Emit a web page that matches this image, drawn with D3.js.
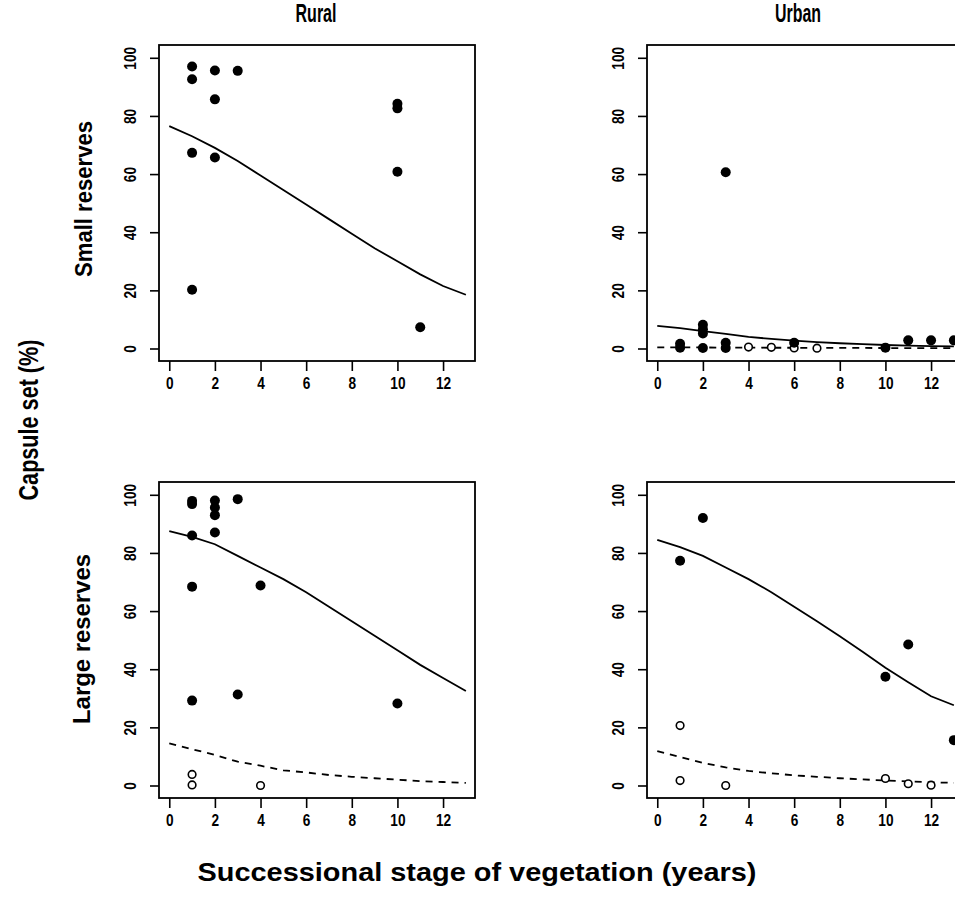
<!DOCTYPE html>
<html>
  <head>
    <meta charset="utf-8">
    <script src="https://d3js.org/d3.v7.min.js"></script>
    <style>
      body { margin: 0; background: #fff; }
      svg { display: block; }
      text { font-family: "Liberation Sans", Arial, sans-serif; font-weight: bold; fill: #000; }
    </style>
    <title>Capsule set</title>
  </head>
  <body>
  <script>
    // ---- data ----
    var xTicks = [0, 2, 4, 6, 8, 10, 12];
    var yTicks = [0, 20, 40, 60, 80, 100];
    var stageYears = [0, 1, 2, 3, 4, 5, 6, 7, 8, 9, 10, 11, 12, 13];

    var columnTitles = ["Rural", "Urban"];
    var rowTitles = ["Small reserves", "Large reserves"];

    // rural, small reserves
    var ruralSmallFilled = [[1, 97], [1, 92.6], [2, 95.6], [3, 95.5], [2, 85.7], [10, 84.2], [10, 82.6],
                            [1, 67.3], [2, 65.7], [10, 60.8], [1, 20.2], [11, 7.3]];
    var ruralSmallOpen = [];
    var ruralSmallFit = [76.5, 73, 69, 64.5, 59.5, 54.5, 49.5, 44.5, 39.5, 34.5, 30, 25.5, 21.5, 18.5];
    var ruralSmallFitOpen = null;

    // urban, small reserves
    var urbanSmallFilled = [[3, 60.6], [1, 1.6], [1, 0.3], [2, 8.2], [2, 6.6], [2, 5.2], [2, 0.2],
                            [3, 2], [3, 0.2], [6, 2], [10, 0.3], [11, 2.8], [12, 2.8], [13, 2.8]];
    var urbanSmallOpen = [[4, 0.5], [5, 0.4], [6, 0.2], [7, 0.1]];
    var urbanSmallFit = [7.8, 7, 6, 5, 4, 3.3, 2.7, 2.2, 1.8, 1.5, 1.2, 1, 0.8, 0.7];
    var urbanSmallFitOpen = [0.4, 0.4, 0.35, 0.3, 0.3, 0.25, 0.25, 0.2, 0.2, 0.2, 0.15, 0.15, 0.1, 0.1];

    // rural, large reserves
    var ruralLargeFilled = [[1, 97.9], [1, 96.8], [2, 98], [2, 95.6], [2, 93], [3, 98.5], [1, 86], [2, 87],
                            [1, 68.4], [4, 68.8], [1, 29.2], [3, 31.3], [10, 28.2]];
    var ruralLargeOpen = [[1, 3.8], [1, 0.2], [4, 0]];
    var ruralLargeFit = [87.5, 85.5, 83, 79, 75, 71, 66.5, 61.5, 56.5, 51.5, 46.5, 41.5, 37, 32.5];
    var ruralLargeFitOpen = [14.5, 12.5, 10.5, 8.2, 6.8, 5.2, 4.5, 3.6, 3, 2.5, 2, 1.5, 1.2, 0.9];

    // urban, large reserves
    var urbanLargeFilled = [[1, 77.3], [2, 92], [10, 37.4], [11, 48.5], [13, 15.6]];
    var urbanLargeOpen = [[1, 20.6], [1, 1.7], [3, 0], [10, 2.4], [11, 0.6], [12, 0.1]];
    var urbanLargeFit = [84.5, 82, 79, 75, 71, 66.5, 61.5, 56.5, 51.3, 46, 40.5, 35.5, 30.7, 27.6];
    var urbanLargeFitOpen = [11.8, 9.8, 7.8, 6.2, 5, 4.2, 3.5, 3, 2.5, 2.1, 1.7, 1.4, 1.1, 0.9];

    var width = 955, height = 897;
    var panelW = 316, panelH = 316;

    var panels = [
      {left: 159, top: 45, filled: ruralSmallFilled, open: ruralSmallOpen, fit: ruralSmallFit, fitOpen: ruralSmallFitOpen},
      {left: 647, top: 45, filled: urbanSmallFilled, open: urbanSmallOpen, fit: urbanSmallFit, fitOpen: urbanSmallFitOpen},
      {left: 159, top: 482, filled: ruralLargeFilled, open: ruralLargeOpen, fit: ruralLargeFit, fitOpen: ruralLargeFitOpen},
      {left: 647, top: 482, filled: urbanLargeFilled, open: urbanLargeOpen, fit: urbanLargeFit, fitOpen: urbanLargeFitOpen}
    ];

    var svg = d3.select("body").append("svg")
                .attr("width", width)
                .attr("height", height);

    var x = d3.scaleLinear().domain([-0.45, 13.4]).range([0, panelW]);
    var y = d3.scaleLinear().domain([-4.3, 104.4]).range([panelH, 0]);

    function drawPanel(p){
      var g = svg.append("g").attr("transform", "translate(" + p.left + "," + p.top + ")");

      var line = d3.line()
                   .x(function(d, i){ return x(stageYears[i]); })
                   .y(function(d){ return y(d); });

      g.append("path")
       .attr("d", line(p.fit))
       .attr("fill", "none")
       .attr("stroke", "#000")
       .attr("stroke-width", 1.8);

      if(p.fitOpen){
        g.append("path")
         .attr("d", line(p.fitOpen))
         .attr("fill", "none")
         .attr("stroke", "#000")
         .attr("stroke-width", 1.8)
         .attr("stroke-dasharray", "7,6");
      }

      g.selectAll(".open")
       .data(p.open)
       .enter().append("circle")
        .attr("class", "open")
        .attr("cx", function(d){ return x(d[0]); })
        .attr("cy", function(d){ return y(d[1]); })
        .attr("r", 3.8)
        .attr("fill", "#fff")
        .attr("stroke", "#000")
        .attr("stroke-width", 1.6);

      g.selectAll(".dot")
       .data(p.filled)
       .enter().append("circle")
        .attr("class", "dot")
        .attr("cx", function(d){ return x(d[0]); })
        .attr("cy", function(d){ return y(d[1]); })
        .attr("r", 5)
        .attr("fill", "#000");

      // frame
      g.append("rect")
       .attr("x", 0).attr("y", 0)
       .attr("width", panelW).attr("height", panelH)
       .attr("fill", "none")
       .attr("stroke", "#000")
       .attr("stroke-width", 1.8);

      var xAxis = g.append("g")
                   .attr("transform", "translate(0," + panelH + ")")
                   .call(d3.axisBottom(x).tickValues(xTicks).tickSize(10).tickPadding(6));
      var yAxis = g.append("g")
                   .call(d3.axisLeft(y).tickValues(yTicks).tickSize(9).tickPadding(5));

      [xAxis, yAxis].forEach(function(a){
        a.attr("font-size", 17).attr("font-family", "'Liberation Sans', Arial, sans-serif");
        a.select(".domain").remove();
        a.selectAll("line").attr("stroke", "#000").attr("stroke-width", 1.6);
        a.selectAll("text")
         .attr("font-weight", "bold")
         .attr("textLength", function(d){ return String(d).length * 7.6; })
         .attr("lengthAdjust", "spacingAndGlyphs")
         .style("font-size", "17px");
      });

      yAxis.selectAll(".tick text")
           .attr("x", 0).attr("dy", "0.36em")
           .attr("text-anchor", "middle")
           .attr("transform", "translate(-29,0) rotate(-90)");
    }

    panels.forEach(drawPanel);

    // column titles
    svg.selectAll(".coltitle")
       .data(columnTitles)
       .enter().append("text")
        .attr("class", "coltitle")
        .attr("x", function(d, i){ return i == 0 ? 316 : 798; })
        .attr("y", 22)
        .attr("text-anchor", "middle")
        .attr("textLength", function(d, i){ return i == 0 ? 41 : 46; })
        .attr("lengthAdjust", "spacingAndGlyphs")
        .style("font-size", "25px")
        .text(function(d){ return d; });

    // row titles
    svg.selectAll(".rowtitle")
       .data(rowTitles)
       .enter().append("text")
        .attr("class", "rowtitle")
        .attr("transform", function(d, i){ return "translate(" + (i == 0 ? 92 : 90) + "," + (i == 0 ? 199 : 639) + ") rotate(-90)"; })
        .attr("text-anchor", "middle")
        .attr("textLength", function(d, i){ return i == 0 ? 156 : 170; })
        .attr("lengthAdjust", "spacingAndGlyphs")
        .style("font-size", "24px")
        .text(function(d){ return d; });

    svg.append("text")
       .attr("transform", "translate(38,420) rotate(-90)")
       .attr("text-anchor", "middle")
       .attr("textLength", 161)
       .attr("lengthAdjust", "spacingAndGlyphs")
       .style("font-size", "27px")
       .text("Capsule set (%)");

    svg.append("text")
       .attr("x", 477)
       .attr("y", 881)
       .attr("text-anchor", "middle")
       .attr("textLength", 559)
       .attr("lengthAdjust", "spacingAndGlyphs")
       .style("font-size", "26px")
       .text("Successional stage of vegetation (years)");
  </script>
</body>
</html>
